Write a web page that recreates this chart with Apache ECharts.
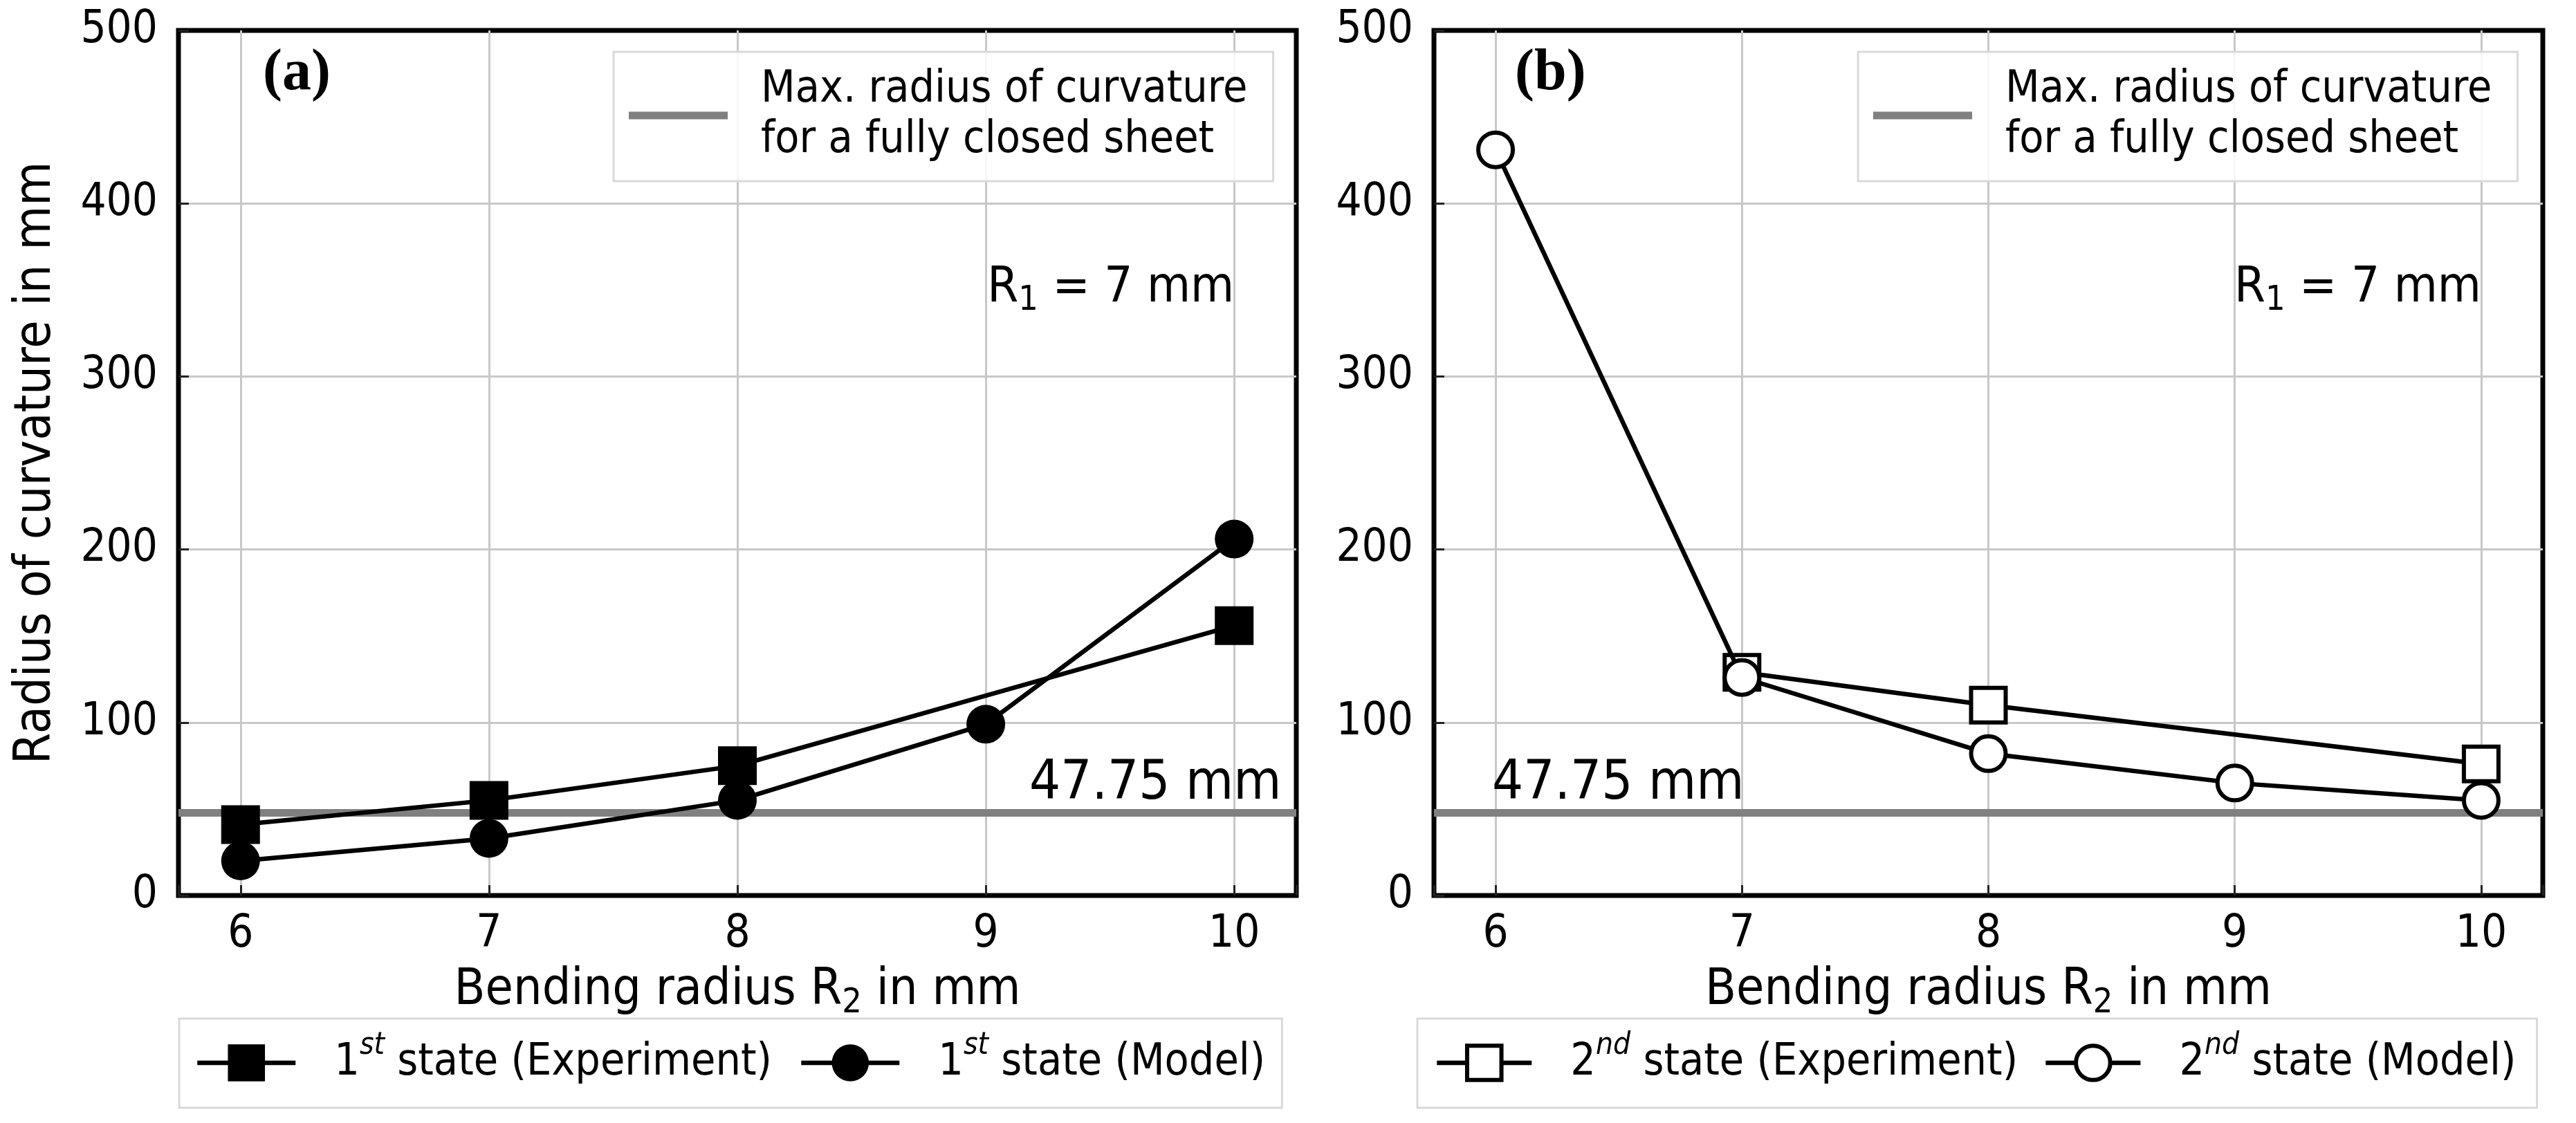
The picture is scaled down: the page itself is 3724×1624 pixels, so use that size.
<!DOCTYPE html>
<html>
<head>
<meta charset="utf-8">
<script src="https://cdn.jsdelivr.net/npm/echarts@6/dist/echarts.min.js"></script>
<style>
html,body{margin:0;padding:0;background:#fff;}
#chart{width:3724px;height:1624px;}
</style>
</head>
<body>
<div id="chart"></div>
<script>
// ---------------- data ----------------
const bendingRadius = [6, 7, 8, 9, 10];
const state1Experiment = [41, 55, 75, null, 156];
const state1Model = [20, 33, 55, 99, 206];
const state2Experiment = [null, 129, 110, null, 76];
const state2Model = [431, 126, 82, 65, 55];
const closedSheetRadius = 47.75;
const xRange = [5.75, 10.25];
const yTicks = [0, 100, 200, 300, 400, 500];
const panelLabels = ['(a)', '(b)'];
const seriesNames = {
  exp1: '1st state (Experiment)',
  mod1: '1st state (Model)',
  exp2: '2nd state (Experiment)',
  mod2: '2nd state (Model)',
  sheet: 'Max. radius of curvature for a fully closed sheet'
};
const r1Text = 'R{sub|1} = 7 mm';
const r1LabelAt = [10, 351];
const sheetLabelX = [10.19, 5.986];

// ---------------- helpers ----------------
const FONT = "'DejaVu Sans Condensed', 'DejaVu Sans', sans-serif";
const LINE_W = 6.5;
function pairs(vals) {
  return bendingRadius.map((x, i) => [x, vals[i]]).filter(p => p[1] !== null);
}
const gridBoxes = [
  {left: 258, top: 44, width: 1616, height: 1251},
  {left: 2073, top: 44, width: 1603, height: 1251}
];
const tickStyle = {show: true, inside: true, length: 15, lineStyle: {color: '#222', width: 3}};
const splitStyle = {show: true, showMinLine: false, showMaxLine: false, lineStyle: {color: '#c8c8c8', width: 3}};

function dataSeries(name, vals, gi, symbol, filled, z) {
  return {
    type: 'line', name: name, xAxisIndex: gi, yAxisIndex: gi,
    data: pairs(vals), symbol: symbol, symbolSize: filled ? 56 : 50,
    showAllSymbol: true, clip: false, z: z,
    lineStyle: {color: '#000', width: LINE_W},
    itemStyle: filled ? {color: '#000', borderWidth: 0} : {color: '#fff', borderColor: '#000', borderWidth: 6},
    emphasis: {disabled: true}, animation: false
  };
}
function sheetSeries(gi) {
  return {
    type: 'line', name: seriesNames.sheet, xAxisIndex: gi, yAxisIndex: gi,
    data: [[xRange[0], closedSheetRadius], [xRange[1], closedSheetRadius]],
    symbol: 'none', z: 2, silent: true,
    lineStyle: {color: '#808080', width: 11},
    itemStyle: {color: '#808080'},
    emphasis: {disabled: true}, animation: false,
    markPoint: {
      symbol: 'circle', symbolSize: 0, silent: true, animation: false,
      label: {show: true, position: 'inside', color: '#000', fontFamily: FONT},
      data: [
        {coord: r1LabelAt, value: 0,
         label: {formatter: r1Text, align: 'right', verticalAlign: 'middle', fontSize: 72,
                 rich: {sub: {fontFamily: FONT, fontSize: 50, lineHeight: 50, padding: [36, 0, 0, 0], color: '#000'}}}},
        {coord: [sheetLabelX[gi], closedSheetRadius], value: 0,
         label: {formatter: closedSheetRadius + ' mm', align: gi === 0 ? 'right' : 'left',
                 verticalAlign: 'middle', offset: [0, -41], fontSize: 79}}
      ]
    }
  };
}
function supFormat(name) {
  return name.replace(/^(\d)(st|nd)/, '$1{sup|$2}');
}
const supRich = {sup: {fontFamily: FONT, fontSize: 44, lineHeight: 44, fontStyle: 'italic', padding: [0, 0, 48, 0], color: '#000'}};

const option = {
  backgroundColor: '#fff',
  animation: false,
  title: panelLabels.map((t, i) => ({
    text: t, left: i === 0 ? 380 : 2190, top: 65, padding: 0,
    textStyle: {fontFamily: "'Liberation Serif', 'DejaVu Serif', serif", fontWeight: 'bold', fontSize: 84, color: '#000'}
  })),
  grid: gridBoxes.map(g => Object.assign({show: true, borderColor: '#000', borderWidth: 7,
    backgroundColor: 'transparent', containLabel: false, outerBoundsMode: 'none'}, g)),
  xAxis: [0, 1].map(gi => ({
    type: 'value', gridIndex: gi, min: xRange[0], max: xRange[1],
    name: 'Bending radius R{sub|2} in mm', nameLocation: 'middle', nameGap: 80,
    nameTextStyle: {fontFamily: FONT, fontSize: 73, color: '#000',
      rich: {sub: {fontFamily: FONT, fontSize: 50, lineHeight: 50, padding: [36, 0, 0, 0], color: '#000'}}},
    axisLine: {show: false}, axisTick: tickStyle,
    axisLabel: {show: true, margin: 25, fontFamily: FONT, fontSize: 65, color: '#000',
      formatter: v => (Number.isInteger(v) ? String(v) : '')},
    splitLine: splitStyle
  })),
  yAxis: [0, 1].map(gi => ({
    type: 'value', gridIndex: gi, min: yTicks[0], max: yTicks[yTicks.length - 1],
    interval: yTicks[1] - yTicks[0],
    name: gi === 0 ? 'Radius of curvature in mm' : '', nameLocation: 'middle', nameGap: 168,
    nameTextStyle: {fontFamily: FONT, fontSize: 73, color: '#000'},
    axisLine: {show: false}, axisTick: tickStyle,
    axisLabel: {show: true, margin: 30, fontFamily: FONT, fontSize: 65, color: '#000'},
    splitLine: splitStyle
  })),
  legend: [
    ...[887, 2686].map(l => ({
      left: l, top: 75, orient: 'horizontal', selectedMode: false,
      padding: [19, 37, 22, 22], itemWidth: 143, itemHeight: 11, icon: 'rect',
      borderColor: '#d9d9d9', borderWidth: 3, borderRadius: 0, backgroundColor: 'rgba(255,255,255,0.85)',
      textStyle: {fontFamily: FONT, fontSize: 64, lineHeight: 73, color: '#000', padding: [0, 0, 0, 43]},
      formatter: () => 'Max. radius of curvature\nfor a fully closed sheet',
      data: [{name: seriesNames.sheet, icon: 'rect', itemStyle: {color: '#808080', borderWidth: 0}}]
    })),
    {
      left: 259, top: 1473, orient: 'horizontal', selectedMode: false,
      padding: [18, 24, 19, 23], itemWidth: 142, itemHeight: 67, itemGap: 39,
      borderColor: '#d9d9d9', borderWidth: 3, borderRadius: 0, backgroundColor: '#fff',
      textStyle: {fontFamily: FONT, fontSize: 64, color: '#000', padding: [0, 0, 0, 51], rich: supRich},
      formatter: supFormat,
      data: [seriesNames.exp1, seriesNames.mod1].map(n => ({name: n,
        itemStyle: {color: '#000', borderWidth: 0}, lineStyle: {color: '#000', width: LINE_W}}))
    },
    {
      left: 2049, top: 1473, orient: 'horizontal', selectedMode: false,
      padding: [18, 30, 19, 25], itemWidth: 137, itemHeight: 62, itemGap: 37,
      borderColor: '#d9d9d9', borderWidth: 3, borderRadius: 0, backgroundColor: '#fff',
      textStyle: {fontFamily: FONT, fontSize: 64, color: '#000', padding: [0, 0, 0, 51], rich: supRich},
      formatter: supFormat,
      data: [seriesNames.exp2, seriesNames.mod2].map(n => ({name: n,
        itemStyle: {color: '#fff', borderColor: '#000', borderWidth: 6}, lineStyle: {color: '#000', width: LINE_W}}))
    }
  ],
  series: [
    sheetSeries(0),
    dataSeries(seriesNames.exp1, state1Experiment, 0, 'rect', true, 3),
    dataSeries(seriesNames.mod1, state1Model, 0, 'circle', true, 4),
    sheetSeries(1),
    dataSeries(seriesNames.exp2, state2Experiment, 1, 'rect', false, 3),
    dataSeries(seriesNames.mod2, state2Model, 1, 'circle', false, 4)
  ]
};

const chart = echarts.init(document.getElementById('chart'), null, {renderer: 'canvas'});
chart.setOption(option);
</script>
</body>
</html>
